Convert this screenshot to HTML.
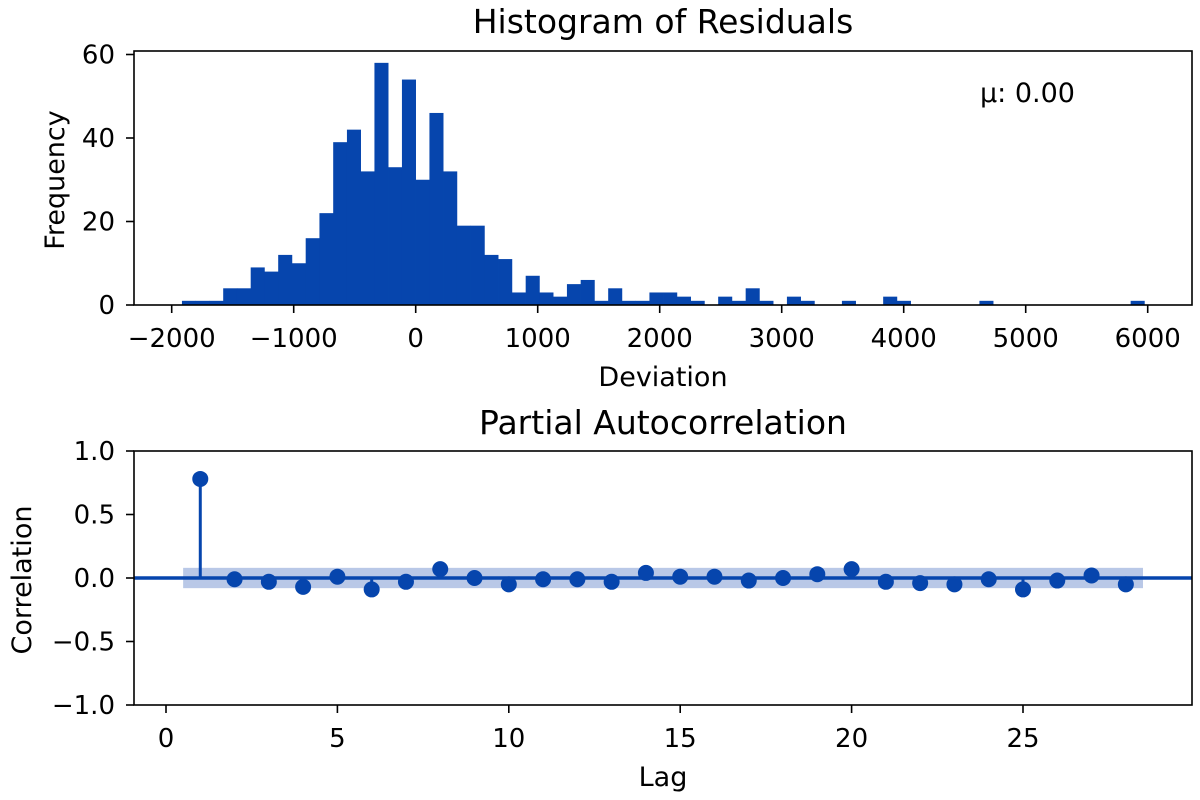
<!DOCTYPE html>
<html><head><meta charset="utf-8"><style>
html,body{margin:0;padding:0;background:#fff;}
svg{display:block;font-family:"DejaVu Sans","Liberation Sans",sans-serif;}
</style></head><body>
<svg id="chart" width="1200" height="800" viewBox="0 0 1200 800" xmlns="http://www.w3.org/2000/svg">
<rect width="1200" height="800" fill="#fff"/>
<g id="hist"></g>
<g id="pacf"></g>
</svg>
<script>
const histStart = -1916;
const histBinWidth = 112.7;
const histCounts = [1,1,1,4,4,9,8,12,10,16,22,39,42,32,58,33,54,30,46,32,19,19,12,11,3,7,3,2,5,6,1,4,1,1,3,3,2,1,0,2,1,4,1,0,2,1,0,0,1,0,0,2,1,0,0,0,0,0,1,0,0,0,0,0,0,0,0,0,0,1];
const histXTicks = [-2000,-1000,0,1000,2000,3000,4000,5000,6000];
const histXTickLabels = ["\u22122000","\u22121000","0","1000","2000","3000","4000","5000","6000"];
const histYTicks = [0,20,40,60];
const pacfLags = [1,2,3,4,5,6,7,8,9,10,11,12,13,14,15,16,17,18,19,20,21,22,23,24,25,26,27,28];
const pacfValues = [0.78,-0.01,-0.03,-0.07,0.01,-0.09,-0.03,0.07,0.0,-0.05,-0.01,-0.01,-0.03,0.04,0.01,0.01,-0.02,0.0,0.03,0.07,-0.03,-0.04,-0.05,-0.01,-0.09,-0.02,0.02,-0.05];
const pacfConf = 0.08;
const pacfXTicks = [0,5,10,15,20,25];
const pacfYTicks = [-1.0,-0.5,0.0,0.5,1.0];
const pacfYTickLabels = ["\u22121.0","\u22120.5","0.0","0.5","1.0"];

const NS="http://www.w3.org/2000/svg";
const C="#0645ad";
const TF=26, LF=27, TT=33;
function mk(parent,tag,attrs,text){const e=document.createElementNS(NS,tag);for(const k in attrs)e.setAttribute(k,attrs[k]);if(text!==undefined)e.textContent=text;parent.appendChild(e);return e;}

// Histogram
const H=document.getElementById('hist');
const hx=v=>415.7+(v)*0.122;
const hy=v=>305-v*4.175;
histCounts.forEach((c,i)=>{
  if(c<=0)return;
  const x0=hx(histStart+i*histBinWidth), x1=hx(histStart+(i+1)*histBinWidth);
  const r=mk(H,'rect',{x:x0,y:hy(c),width:x1-x0+0.3,height:305-hy(c),fill:C});
  
  
});
const hf=mk(H,'rect',{x:134,y:51,width:1058,height:254,fill:'none',stroke:'#000','stroke-width':1.6});

histXTicks.forEach((t,i)=>{
  const x=hx(t);
  mk(H,'line',{x1:x,x2:x,y1:305,y2:313,stroke:'#000','stroke-width':1.6});
  const tl=mk(H,'text',{x:x,y:347,'font-size':TF,'text-anchor':'middle'},histXTickLabels[i]);
  
});
histYTicks.forEach(t=>{
  const y=hy(t);
  mk(H,'line',{x1:126,x2:134,y1:y,y2:y,stroke:'#000','stroke-width':1.6});
  const tl=mk(H,'text',{x:115,y:y+9,'font-size':TF,'text-anchor':'end'},String(t));
  
});
let e;
e=mk(H,'text',{x:663,y:33,'font-size':TT,'text-anchor':'middle'},'Histogram of Residuals');
e=mk(H,'text',{x:663,y:386,'font-size':LF,'text-anchor':'middle'},'Deviation');
e=mk(H,'text',{x:0,y:0,'font-size':LF,'text-anchor':'middle',transform:'translate(64,180) rotate(-90)'},'Frequency');
e=mk(H,'text',{x:980,y:102,'font-size':LF},'\u03bc: 0.00');

// PACF
const P=document.getElementById('pacf');
const px=v=>166+v*34.28;
const py=v=>578-v*127;
e=mk(P,'rect',{x:px(0.5),y:py(pacfConf),width:px(pacfLags.length+0.5)-px(0.5),height:py(-pacfConf)-py(pacfConf),fill:'#b9c8e7'});

e=mk(P,'line',{x1:134,x2:1192,y1:py(0),y2:py(0),stroke:C,'stroke-width':3.5});

pacfLags.forEach((l,i)=>{
  const v=pacfValues[i];
  const s=mk(P,'line',{x1:px(l),x2:px(l),y1:py(0),y2:py(v),stroke:C,'stroke-width':3});
  
  
  const c=mk(P,'circle',{cx:px(l),cy:py(v),r:8,fill:C});
  
  
});
e=mk(P,'rect',{x:134,y:451,width:1058,height:254,fill:'none',stroke:'#000','stroke-width':1.6});

pacfXTicks.forEach(t=>{
  const x=px(t);
  mk(P,'line',{x1:x,x2:x,y1:705,y2:713,stroke:'#000','stroke-width':1.6});
  const tl=mk(P,'text',{x:x,y:747,'font-size':TF,'text-anchor':'middle'},String(t));
  
});
pacfYTicks.forEach((t,i)=>{
  const y=py(t);
  mk(P,'line',{x1:126,x2:134,y1:y,y2:y,stroke:'#000','stroke-width':1.6});
  const tl=mk(P,'text',{x:115,y:y+9,'font-size':TF,'text-anchor':'end'},pacfYTickLabels[i]);
  
});
e=mk(P,'text',{x:663,y:434,'font-size':TT,'text-anchor':'middle'},'Partial Autocorrelation');
e=mk(P,'text',{x:663,y:786,'font-size':LF,'text-anchor':'middle'},'Lag');
e=mk(P,'text',{x:0,y:0,'font-size':LF,'text-anchor':'middle',transform:'translate(31,580) rotate(-90)'},'Correlation');
</script>
</body></html>
